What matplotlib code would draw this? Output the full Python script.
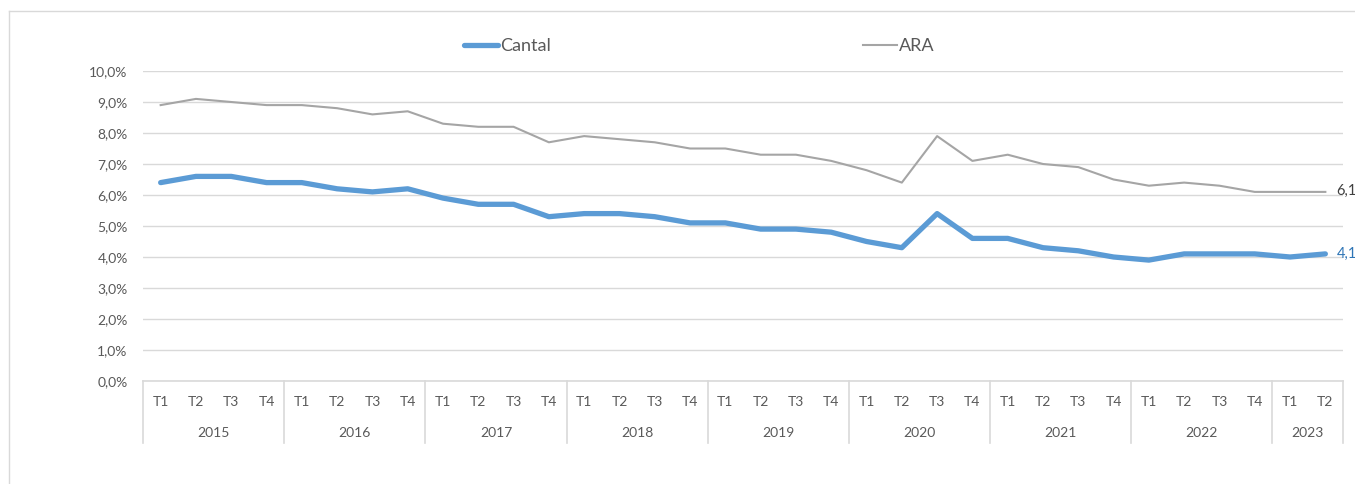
import matplotlib.pyplot as plt
from matplotlib.lines import Line2D
from matplotlib.ticker import FuncFormatter
import matplotlib.transforms as mtransforms

years = ['2015', '2016', '2017', '2018', '2019', '2020', '2021', '2022', '2023']
quarters_per_year = [4, 4, 4, 4, 4, 4, 4, 4, 2]
quarter_names = ['T1', 'T2', 'T3', 'T4']

cantal = [6.4, 6.6, 6.6, 6.4, 6.4, 6.2, 6.1, 6.2, 5.9, 5.7, 5.7, 5.3,
          5.4, 5.4, 5.3, 5.1, 5.1, 4.9, 4.9, 4.8, 4.5, 4.3, 5.4, 4.6,
          4.6, 4.3, 4.2, 4.0, 3.9, 4.1, 4.1, 4.1, 4.0, 4.1]
ara = [8.9, 9.1, 9.0, 8.9, 8.9, 8.8, 8.6, 8.7, 8.3, 8.2, 8.2, 7.7,
       7.9, 7.8, 7.7, 7.5, 7.5, 7.3, 7.3, 7.1, 6.8, 6.4, 7.9, 7.1,
       7.3, 7.0, 6.9, 6.5, 6.3, 6.4, 6.3, 6.1, 6.1, 6.1]

plt.rcParams['font.family'] = ['Lato', 'DejaVu Sans']

W, H = 1355, 484
fig = plt.figure(figsize=(W / 100, H / 100), dpi=100)
ax = fig.add_axes([143 / W, 1 - 381 / H, 1200 / W, 310 / H])

x = list(range(len(cantal)))
ax.plot(x, ara, color='#A5A5A5', lw=1.5, label='ARA', zorder=3)
ax.plot(x, cantal, color='#5B9BD5', lw=3.8, solid_capstyle='round',
        solid_joinstyle='round', label='Cantal', zorder=4)

ax.set_xlim(-0.5, len(cantal) - 0.5)
ax.set_ylim(0, 10)
ax.set_yticks(range(0, 11))
ax.yaxis.set_major_formatter(FuncFormatter(lambda v, p: f'{v:.1f}%'.replace('.', ',')))
ax.tick_params(axis='y', length=0, pad=11, labelsize=10, labelcolor='#595959')
ax.set_xticks([])
for s in ax.spines.values():
    s.set_visible(False)
ax.grid(axis='y', color='#D9D9D9', lw=1)
ax.set_axisbelow(True)
ax.axhline(0, color='#D9D9D9', lw=1.2, clip_on=False)

# data labels at the last point
ax.annotate(f'{ara[-1]:.1f}'.replace('.', ','), (x[-1], ara[-1]), xytext=(8, 1),
            textcoords='offset points', va='center', ha='left', fontsize=10.5,
            color='#404040', annotation_clip=False)
ax.annotate(f'{cantal[-1]:.1f}'.replace('.', ','), (x[-1], cantal[-1]), xytext=(8, 0),
            textcoords='offset points', va='center', ha='left', fontsize=10.5,
            color='#2E75B6', annotation_clip=False)

# two-level category axis
trans = mtransforms.blended_transform_factory(ax.transData, ax.transAxes)
box_h = 62 / 310
start = 0
for yr, n in zip(years, quarters_per_year):
    for q in range(n):
        ax.text(start + q, -21 / 310, quarter_names[q], transform=trans,
                ha='center', va='center', fontsize=10, color='#595959')
    ax.text(start + (n - 1) / 2, -52 / 310, yr, transform=trans,
            ha='center', va='center', fontsize=10, color='#595959')
    ax.plot([start - 0.5, start - 0.5], [0, -box_h], transform=trans,
            color='#D9D9D9', lw=1.2, clip_on=False)
    start += n
ax.plot([start - 0.5, start - 0.5], [0, -box_h], transform=trans,
        color='#D9D9D9', lw=1.2, clip_on=False)

# outer chart frame
fig.add_artist(Line2D([9 / W, 1], [1 - 11 / H, 1 - 11 / H], color='#D9D9D9', lw=1))
fig.add_artist(Line2D([9 / W, 9 / W], [0, 1 - 11 / H], color='#D9D9D9', lw=1))

handles, labels = ax.get_legend_handles_labels()
fig.legend(handles[::-1], labels[::-1], loc='center', ncol=2,
           bbox_to_anchor=(699 / W, 1 - 46 / H), frameon=False,
           fontsize=13, labelcolor='#595959', handlelength=1.9,
           handletextpad=0.1, columnspacing=17.3)

fig.savefig('out.png', dpi=100)
